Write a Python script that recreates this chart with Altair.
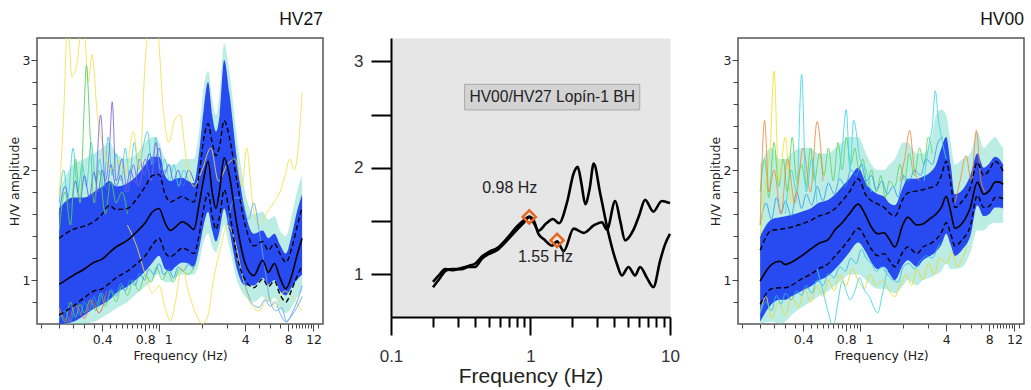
import altair as alt
import pandas as pd

# ---------------- left panel: HV27 (all windows) ----------------
HV27_F = [0.2, 0.25, 0.3, 0.35, 0.4, 0.45, 0.5, 0.6, 0.7, 0.8, 0.9, 1.0, 1.1, 1.2, 1.3, 1.45, 1.6, 1.75, 1.9,
          2.05, 2.2, 2.35, 2.5, 2.65, 2.85, 3.1, 3.5, 4.0, 4.6, 5.3, 5.8, 6.4, 7.0, 7.7, 8.5, 9.2, 10.0]
HV27_MEAN = [0.96, 1.04, 1.10, 1.16, 1.19, 1.25, 1.30, 1.36, 1.44, 1.52, 1.62, 1.65, 1.52, 1.45, 1.48, 1.53, 1.50,
             1.46, 1.68, 1.92, 2.08, 1.80, 1.65, 1.82, 2.11, 1.95, 1.50, 1.15, 1.04, 1.18, 1.07, 1.15, 1.02, 0.92,
             1.05, 1.22, 1.38]
HV27_PLUS = [1.38, 1.46, 1.49, 1.53, 1.60, 1.68, 1.64, 1.65, 1.74, 1.85, 1.95, 1.96, 1.78, 1.71, 1.73, 1.76, 1.73,
             1.71, 1.95, 2.28, 2.42, 2.25, 2.13, 2.22, 2.45, 2.30, 1.90, 1.50, 1.31, 1.35, 1.27, 1.33, 1.24, 1.16,
             1.30, 1.48, 1.66]
HV27_MINUS = [0.68, 0.76, 0.84, 0.90, 0.92, 0.97, 1.02, 1.08, 1.15, 1.22, 1.32, 1.38, 1.25, 1.21, 1.24, 1.29, 1.27,
              1.24, 1.40, 1.65, 1.79, 1.58, 1.46, 1.58, 1.82, 1.62, 1.22, 1.00, 0.93, 1.01, 0.94, 0.99, 0.87, 0.80,
              0.92, 1.03, 1.13]
HV27_CORE_HI = [1.65, 1.75, 1.75, 1.80, 1.85, 1.90, 1.85, 1.88, 1.95, 2.05, 2.12, 2.12, 1.95, 1.90, 1.92, 1.93, 1.90,
                1.88, 2.15, 2.55, 2.80, 2.50, 2.35, 2.50, 3.00, 2.70, 2.10, 1.62, 1.42, 1.45, 1.38, 1.42, 1.32, 1.24,
                1.42, 1.62, 1.78]
HV27_CORE_LO = [0.60, 0.62, 0.68, 0.74, 0.78, 0.82, 0.88, 0.94, 1.01, 1.08, 1.16, 1.22, 1.10, 1.08, 1.12, 1.16, 1.15,
                1.12, 1.28, 1.50, 1.62, 1.45, 1.35, 1.45, 1.65, 1.45, 1.10, 0.95, 0.95, 1.02, 0.96, 1.00, 0.90, 0.86,
                0.94, 1.00, 1.05]
HV27_SPREAD_HI = [1.82, 2.05, 2.10, 2.15, 2.20, 2.25, 2.15, 2.10, 2.15, 2.25, 2.30, 2.25, 2.10, 2.05, 2.05, 2.10, 2.10,
                  2.10, 2.35, 2.75, 2.90, 2.65, 2.50, 2.70, 3.15, 2.90, 2.30, 1.80, 1.60, 1.62, 1.55, 1.58, 1.45, 1.40,
                  1.60, 1.80, 1.95]
HV27_SPREAD_LO = [0.60, 0.60, 0.60, 0.62, 0.66, 0.70, 0.74, 0.80, 0.88, 0.94, 1.00, 1.06, 0.98, 0.98, 1.02, 1.05, 1.05,
                  1.05, 1.15, 1.35, 1.42, 1.30, 1.25, 1.35, 1.50, 1.30, 1.00, 0.85, 0.80, 0.85, 0.80, 0.84, 0.74, 0.70,
                  0.76, 0.84, 0.90]

# individual windows read from the cloud (HV27)
HV27_YEL1_F = [0.2, 0.215, 0.23, 0.245, 0.265, 0.295, 0.32, 0.34, 0.37, 0.41, 0.46, 0.52, 0.58, 0.66, 0.73, 0.8, 0.88,
               0.97, 1.07, 1.17, 1.28, 1.4, 1.55, 1.75, 2.0, 2.3, 2.6, 3.0, 3.4, 3.8, 4.1, 4.5, 5.0, 5.6, 6.3, 7.0,
               7.6, 8.2, 8.8, 9.4, 10.0]
HV27_YEL1_V = [1.75, 2.5, 3.4, 2.85, 2.95, 3.4, 2.8, 3.05, 2.5, 2.2, 2.0, 2.1, 1.95, 2.35, 2.0, 3.0, 3.4, 3.3, 2.55,
               2.25, 2.45, 2.5, 2.1, 1.85, 2.0, 2.2, 1.9, 2.05, 2.1, 1.85, 2.2, 1.7, 1.5, 1.6, 1.7, 1.8, 1.95, 2.1,
               2.0, 2.2, 2.7]
HV27_YEL2_F = [0.6, 0.7, 0.8, 0.9, 1.0, 1.1, 1.2, 1.3, 1.45, 1.6, 1.8, 2.0, 2.2, 2.4, 2.7, 3.0, 3.4, 3.8, 4.3, 5.0,
               5.8, 6.6, 7.5, 8.5, 9.3, 10.0]
HV27_YEL2_V = [1.5, 1.3, 1.05, 0.88, 0.95, 0.75, 0.63, 0.8, 1.12, 0.9, 0.7, 0.6, 0.68, 1.0, 1.3, 1.5, 1.35, 1.05, 0.8,
               0.72, 0.85, 0.75, 0.9, 0.85, 0.78, 0.72]
HV27_LB1_F = [3.0, 3.4, 3.8, 4.2, 4.6, 5.0, 5.5, 6.0, 6.6, 7.2, 7.8, 8.5, 9.2, 10.0]
HV27_LB1_V = [1.5, 1.75, 1.72, 1.55, 1.7, 1.45, 1.1, 0.8, 0.72, 0.75, 0.62, 0.7, 0.8, 0.95]
HV27_LB2_F = [3.5, 4.0, 4.5, 5.0, 5.5, 6.0, 6.5, 7.0, 7.7, 8.5, 9.2, 10.0]
HV27_LB2_V = [1.2, 0.95, 0.78, 0.75, 0.82, 0.76, 0.8, 0.7, 0.62, 0.68, 0.75, 0.85]
HV27_GRN_F = [0.2, 0.22, 0.24, 0.26, 0.28, 0.3, 0.31, 0.33, 0.35, 0.38, 0.42, 0.46, 0.5, 0.55, 0.6]
HV27_GRN_V = [1.45, 1.8, 1.5, 2.1, 1.7, 2.6, 2.95, 2.3, 1.7, 2.0, 1.6, 1.9, 1.7, 1.8, 1.6]
HV27_PUR_F = [0.36, 0.39, 0.42, 0.45, 0.47, 0.5, 0.55, 0.6, 0.66, 0.72, 0.8, 0.88, 0.95, 1.02, 1.1]
HV27_PUR_V = [1.7, 2.5, 1.9, 2.2, 2.62, 1.9, 2.1, 1.8, 2.05, 1.85, 2.1, 1.9, 2.25, 1.95, 2.0]
HV27_RED_F = [0.2, 0.23, 0.26, 0.3, 0.34, 0.38, 0.43]
HV27_RED_V = [0.75, 0.62, 0.78, 0.65, 0.82, 0.7, 0.9]
HV27_CYA_F = [0.2, 0.215, 0.23, 0.25, 0.27, 0.29, 0.31, 0.335, 0.36, 0.385, 0.41, 0.44, 0.47, 0.5, 0.54, 0.58, 0.62,
              0.67, 0.72, 0.77, 0.83, 0.89, 0.95, 1.02, 1.1, 1.18, 1.27, 1.37, 1.48, 1.6]
HV27_CYA_V = [1.7, 2.0, 1.75, 2.2, 1.8, 2.05, 1.85, 2.25, 1.9, 2.1, 1.85, 2.3, 1.95, 2.15, 1.9, 2.2, 1.95, 2.25, 2.0,
              2.2, 2.35, 2.05, 2.3, 2.0, 2.1, 1.9, 2.05, 1.85, 2.0, 1.9]
HV27_GRN2_F = [0.2, 0.22, 0.24, 0.26, 0.28, 0.3, 0.33, 0.36, 0.39, 0.42, 0.46, 0.5, 0.55, 0.6, 0.66, 0.72, 0.8, 0.88,
               0.96, 1.05, 1.15, 1.25, 1.4, 1.6, 1.8]
HV27_GRN2_V = [0.75, 0.62, 0.8, 0.66, 0.78, 0.7, 0.82, 0.72, 0.88, 0.76, 0.9, 0.8, 0.95, 0.86, 1.0, 0.9, 1.05, 0.98,
               1.12, 1.0, 1.08, 0.98, 1.1, 1.05, 1.15]
HV27_EDGE_F = [0.2, 0.22, 0.24, 0.26, 0.28, 0.3, 0.325, 0.35, 0.375, 0.4, 0.43, 0.46, 0.5, 0.54, 0.58, 0.63, 0.68,
               0.73, 0.79, 0.85, 0.92, 1.0, 1.08, 1.17, 1.26, 1.36, 1.47, 1.6, 1.75]
HV27_EDGE1_V = [1.6, 1.85, 1.65, 1.9, 1.7, 1.95, 1.75, 1.98, 1.8, 2.0, 1.82, 2.05, 1.85, 1.95, 1.8, 2.0, 1.88, 2.1,
                1.95, 2.15, 2.05, 2.2, 1.95, 2.05, 1.9, 2.0, 1.85, 2.0, 1.9]
HV27_EDGE2_V = [0.65, 0.72, 0.62, 0.78, 0.68, 0.8, 0.72, 0.85, 0.76, 0.88, 0.8, 0.92, 0.85, 0.97, 0.9, 1.0, 0.95, 1.06,
                1.0, 1.1, 1.05, 1.15, 1.05, 1.1, 1.02, 1.12, 1.08, 1.14, 1.1]

# ---------------- right panel: HV00 (all windows) ----------------
HV00_F = [0.2, 0.24, 0.275, 0.3, 0.33, 0.39, 0.45, 0.51, 0.6, 0.67, 0.75, 0.84, 0.97, 1.1, 1.2, 1.33, 1.47, 1.6,
          1.75, 2.0, 2.15, 2.5, 2.75, 3.1, 3.4, 3.7, 4.0, 4.3, 4.6, 5.2, 5.9, 6.6, 7.3, 8.0, 8.8, 9.4, 10.0]
HV00_MEAN = [0.99, 1.14, 1.17, 1.14, 1.16, 1.22, 1.28, 1.33, 1.37, 1.46, 1.52, 1.60, 1.69, 1.58, 1.48, 1.42, 1.43,
             1.37, 1.30, 1.51, 1.57, 1.50, 1.51, 1.56, 1.60, 1.66, 1.76, 1.62, 1.47, 1.52, 1.66, 1.89, 1.78, 1.81,
             1.89, 1.89, 1.87]
HV00_PLUS = [1.27, 1.45, 1.46, 1.47, 1.48, 1.51, 1.54, 1.58, 1.61, 1.65, 1.72, 1.80, 1.92, 1.77, 1.72, 1.69, 1.66,
             1.61, 1.58, 1.74, 1.79, 1.81, 1.82, 1.84, 1.86, 1.95, 2.08, 1.88, 1.66, 1.72, 1.84, 2.07, 1.95, 2.00,
             2.08, 2.05, 1.99]
HV00_MINUS = [0.78, 0.92, 0.93, 0.93, 0.95, 1.01, 1.05, 1.10, 1.15, 1.22, 1.29, 1.37, 1.47, 1.37, 1.28, 1.22, 1.24,
              1.18, 1.12, 1.26, 1.30, 1.24, 1.30, 1.33, 1.37, 1.43, 1.52, 1.42, 1.31, 1.37, 1.49, 1.77, 1.66, 1.67,
              1.75, 1.75, 1.74]
HV00_CORE_HI = [1.40, 1.55, 1.57, 1.58, 1.59, 1.62, 1.65, 1.70, 1.73, 1.78, 1.85, 1.92, 2.02, 1.88, 1.82, 1.78, 1.76,
                1.70, 1.68, 1.85, 1.92, 1.92, 1.94, 1.98, 2.05, 2.20, 2.30, 2.05, 1.78, 1.82, 1.95, 2.15, 2.02, 2.06,
                2.12, 2.10, 2.05]
HV00_CORE_LO = [0.62, 0.78, 0.82, 0.82, 0.85, 0.90, 0.94, 0.99, 1.04, 1.10, 1.17, 1.25, 1.34, 1.25, 1.16, 1.10, 1.12,
                1.06, 1.00, 1.14, 1.18, 1.12, 1.18, 1.22, 1.26, 1.32, 1.42, 1.32, 1.22, 1.28, 1.40, 1.68, 1.58, 1.60,
                1.66, 1.66, 1.65]
HV00_SPREAD_HI = [2.05, 2.20, 2.10, 2.10, 2.15, 2.20, 2.20, 2.15, 2.15, 2.20, 2.25, 2.30, 2.30, 2.15, 2.05, 2.00, 2.00,
                  2.05, 2.10, 2.25, 2.25, 2.15, 2.15, 2.25, 2.50, 2.55, 2.50, 2.25, 2.05, 2.10, 2.15, 2.35, 2.20, 2.25,
                  2.30, 2.25, 2.20]
HV00_SPREAD_LO = [0.60, 0.62, 0.60, 0.62, 0.68, 0.75, 0.80, 0.85, 0.90, 0.95, 1.00, 1.05, 1.05, 1.00, 0.95, 0.92, 0.92,
                  0.90, 0.88, 0.95, 1.00, 0.95, 1.00, 1.02, 1.05, 1.08, 1.15, 1.10, 1.10, 1.12, 1.25, 1.45, 1.45, 1.50,
                  1.52, 1.52, 1.52]

HV00_YEL_F = [0.2, 0.22, 0.235, 0.25, 0.27, 0.3, 0.33, 0.37]
HV00_YEL_V = [1.4, 1.9, 2.2, 2.9, 1.9, 2.3, 1.7, 2.0]
HV00_ORA1_F = [0.2, 0.215, 0.23, 0.25, 0.28, 0.31, 0.35, 0.4, 0.45, 0.5, 0.55]
HV00_ORA1_V = [1.5, 2.45, 1.8, 2.0, 1.6, 2.1, 1.7, 2.2, 1.8, 2.44, 1.9]
HV00_CYA1_F = [0.3, 0.33, 0.36, 0.39, 0.42, 0.46, 0.5]
HV00_CYA1_V = [1.6, 2.0, 1.8, 2.87, 1.8, 2.1, 1.7]
HV00_CYA2_F = [0.5, 0.55, 0.6, 0.65, 0.7, 0.75, 0.8, 0.85, 0.92, 0.99, 1.08, 1.17, 1.25, 1.33, 1.42, 1.55]
HV00_CYA2_V = [1.1, 0.9, 0.7, 0.58, 0.8, 0.99, 0.9, 0.82, 0.9, 1.02, 0.9, 0.84, 0.75, 0.7, 0.85, 1.1]
HV00_CYA3_F = [0.7, 0.75, 0.8, 0.85, 0.9, 1.0, 1.1, 1.2]
HV00_CYA3_V = [1.9, 2.2, 2.55, 2.0, 2.45, 2.1, 2.0, 1.8]
HV00_CYA4_F = [2.8, 3.0, 3.2, 3.36, 3.5, 3.7, 4.0]
HV00_CYA4_V = [1.9, 2.2, 2.4, 2.72, 2.5, 2.3, 2.1]
HV00_ORA2_F = [4.6, 5.0, 5.5, 6.0, 6.5, 7.0, 7.5]
HV00_ORA2_V = [1.7, 1.9, 2.13, 1.9, 2.36, 1.9, 1.8]
HV00_ORA3_F = [1.9, 2.05, 2.22, 2.4, 2.6]
HV00_ORA3_V = [1.9, 2.1, 2.36, 2.0, 1.9]
HV00_GRN_F = [0.2, 0.215, 0.23, 0.25, 0.27, 0.29, 0.31, 0.335, 0.36, 0.39, 0.42, 0.45, 0.48, 0.52, 0.56, 0.6, 0.65,
              0.7, 0.75, 0.8, 0.86, 0.92, 0.98, 1.05, 1.12, 1.2, 1.3, 1.4, 1.5, 1.6, 1.75, 1.9, 2.05, 2.2, 2.4, 2.6,
              2.8, 3.0, 3.2]
HV00_GRN_V = [1.8, 2.1, 1.75, 2.25, 1.85, 2.1, 1.8, 2.3, 1.9, 2.05, 1.85, 2.2, 1.9, 2.15, 1.95, 2.2, 1.9, 2.25, 2.0,
              2.3, 2.05, 2.2, 2.0, 2.1, 1.85, 2.0, 1.8, 1.95, 1.75, 1.9, 1.85, 2.05, 1.9, 2.15, 1.95, 2.2, 2.05, 2.3,
              2.15]
HV00_YEL2_F = [0.2, 0.22, 0.24, 0.27, 0.3, 0.33, 0.37, 0.41, 0.45, 0.5, 0.55, 0.6, 0.66, 0.72, 0.8, 0.88, 0.97, 1.07,
               1.17, 1.3, 1.45, 1.6, 1.75, 1.9, 2.1, 2.3, 2.5, 2.75, 3.0, 3.3, 3.6, 4.0, 4.4, 4.8, 5.2, 5.6]
HV00_YEL2_V = [0.7, 0.85, 0.65, 0.8, 0.68, 0.85, 0.75, 0.92, 0.8, 0.95, 0.85, 1.0, 0.9, 1.05, 0.95, 1.1, 1.0, 0.92,
               1.05, 0.95, 1.0, 0.9, 0.85, 0.95, 1.05, 0.95, 1.1, 1.0, 1.15, 1.05, 1.2, 1.15, 1.25, 1.12, 1.2, 1.3]
HV00_EDGE_F = [0.2, 0.22, 0.24, 0.26, 0.28, 0.3, 0.33, 0.36, 0.39, 0.42, 0.46, 0.5, 0.55, 0.6, 0.66, 0.72, 0.79, 0.86,
               0.94, 1.02, 1.1, 1.2, 1.3, 1.42, 1.55, 1.7, 1.85, 2.0, 2.2, 2.4, 2.65, 2.9, 3.2, 3.5, 3.8]
HV00_EDGE1_V = [1.5, 1.7, 1.55, 1.75, 1.6, 1.72, 1.58, 1.8, 1.65, 1.78, 1.68, 1.85, 1.72, 1.88, 1.78, 1.92, 1.85, 2.0,
                1.95, 2.05, 1.9, 1.95, 1.82, 1.9, 1.78, 1.85, 1.75, 1.95, 1.9, 2.0, 1.95, 2.1, 2.05, 2.25, 2.3]
HV00_EDGE2_V = [0.7, 0.8, 0.72, 0.86, 0.78, 0.88, 0.82, 0.9, 0.86, 0.95, 0.88, 1.0, 0.95, 1.06, 1.02, 1.12, 1.08, 1.2,
                1.15, 1.28, 1.2, 1.15, 1.08, 1.12, 1.05, 1.0, 0.98, 1.12, 1.15, 1.1, 1.18, 1.22, 1.2, 1.3, 1.35]

# ---------------- centre panel: mean curves ----------------
C_HV27_F = [0.2, 0.22, 0.25, 0.28, 0.32, 0.36, 0.4, 0.45, 0.5, 0.58, 0.68, 0.8, 0.9, 0.98, 1.06, 1.14, 1.3, 1.45,
            1.6, 1.83, 2.04, 2.18, 2.32, 2.47, 2.65, 2.84, 3.16, 3.63, 4.16, 4.52, 5.04, 5.62, 6.1, 6.82, 7.6, 8.5,
            9.2, 10.0]
C_HV27_V = [0.88, 0.95, 1.04, 1.05, 1.05, 1.07, 1.07, 1.15, 1.19, 1.23, 1.32, 1.42, 1.49, 1.54, 1.48, 1.41, 1.48,
            1.52, 1.48, 1.68, 1.95, 2.01, 1.85, 1.66, 1.80, 2.04, 1.76, 1.38, 1.10, 0.99, 1.07, 0.99, 1.07, 0.97,
            0.88, 1.13, 1.28, 1.38]
C_HV00_F = [0.2, 0.22, 0.245, 0.28, 0.32, 0.36, 0.4, 0.45, 0.5, 0.58, 0.68, 0.8, 0.9, 0.98, 1.06, 1.14, 1.25, 1.43,
            1.55, 1.73, 2.04, 2.41, 2.84, 3.25, 3.53, 4.05, 4.4, 4.77, 5.48, 6.0, 6.63, 7.6, 8.73, 9.4, 10.0]
C_HV00_V = [0.93, 0.99, 1.05, 1.04, 1.06, 1.08, 1.10, 1.17, 1.21, 1.25, 1.34, 1.45, 1.51, 1.54, 1.50, 1.38, 1.33,
            1.27, 1.31, 1.22, 1.43, 1.39, 1.46, 1.49, 1.42, 1.69, 1.50, 1.32, 1.42, 1.55, 1.70, 1.59, 1.69, 1.68,
            1.67]
PEAK_F = [0.98, 1.55]
PEAK_V = [1.54, 1.32]
PEAK_LABELS = ["0.98 Hz", "1.55 Hz"]
PEAK_LABEL_F = [0.71, 1.28]
PEAK_LABEL_V = [1.81, 1.16]
LEGEND_TEXT = "HV00/HV27 Lopín-1 BH"

# axis tick lists
SIDE_X_MAJOR = [0.4, 0.8, 1, 4, 8, 12]
SIDE_X_MINOR = [0.15, 0.2, 0.25, 0.3, 0.35, 0.45, 0.5, 0.55, 0.6, 0.65, 0.7, 0.75, 0.85, 0.9, 0.95,
                2, 3, 5, 6, 7, 8.5, 9, 9.5, 10, 10.5, 11, 11.5, 13]
SIDE_Y_MAJOR = [1, 2, 3]
SIDE_Y_MINOR = [0.8, 1.2, 1.4, 1.6, 1.8, 2.2, 2.4, 2.6, 2.8]
C_X_MAJOR = [0.1, 1, 10]
C_X_MINOR = [0.2, 0.3, 0.4, 0.5, 0.6, 0.7, 0.8, 0.9, 2, 3, 4, 5, 6, 7, 8, 9]
C_Y_TICKS = [1, 1.5, 2, 2.5, 3]

SIDE_FONT = "DejaVu Sans"
C_FONT = "Liberation Sans"
AX = "#444444"
TXT = "#222222"


def side_panel(F, mean, plus, minus, chi, clo, shi, slo, outliers, name):
    xs = alt.Scale(type="log", domain=[0.14, 14.0], nice=False)
    ys = alt.Scale(domain=[0.6, 3.2], nice=False, zero=False)
    df = pd.DataFrame({"f": F, "mean": mean, "chi": chi, "clo": clo, "shi": shi, "slo": slo})
    ddf = pd.concat([pd.DataFrame({"f": F, "v": plus, "s": "plus"}),
                     pd.DataFrame({"f": F, "v": minus, "s": "minus"})])
    rows = []
    for k, (fs, vs, col) in enumerate(outliers):
        for f, v in zip(fs, vs):
            rows.append({"id": k, "f": f, "v": v, "c": col})
    odf = pd.DataFrame(rows)

    x_minor = alt.Axis(orient="bottom", values=SIDE_X_MINOR, labels=False, tickSize=4, domain=False,
                       grid=False, title=None, tickColor=AX)
    x_major = alt.Axis(orient="bottom", values=SIDE_X_MAJOR, format="~g", labelFlush=False, labelOverlap=False,
                       labelOffset={"condition": {"test": "datum.value == 1", "value": 9}, "value": 0},
                       tickSize=7, domain=False, grid=False, tickColor=AX, labelFont=SIDE_FONT, labelFontSize=12.5,
                       labelColor=TXT, labelPadding=2, title="Frequency (Hz)", titleFont=SIDE_FONT,
                       titleFontSize=12.5, titleFontWeight="normal", titleColor=TXT, titlePadding=4)
    y_minor = alt.Axis(orient="left", values=SIDE_Y_MINOR, labels=False, tickSize=5, domain=False, grid=False,
                       title=None, tickColor=AX)
    y_major = alt.Axis(orient="left", values=SIDE_Y_MAJOR, format="~g", tickSize=6, domain=False, grid=False,
                       tickColor=AX, labelFont=SIDE_FONT, labelFontSize=12.5, labelColor=TXT, labelPadding=1,
                       title="H/V amplitude", titleFont=SIDE_FONT, titleFontSize=12.5, titleFontWeight="normal",
                       titleColor=TXT, titlePadding=1)

    spread = alt.Chart(df).mark_area(color="#5fd4c0", opacity=0.42, interpolate="monotone", clip=True).encode(
        x=alt.X("f:Q", scale=xs, axis=x_minor),
        y=alt.Y("slo:Q", scale=ys, axis=y_minor),
        y2="shi:Q")
    core = alt.Chart(df).mark_area(color="#1a3cf2", opacity=0.92, interpolate="monotone", clip=True).encode(
        x=alt.X("f:Q", scale=xs, axis=None),
        y=alt.Y("clo:Q", scale=ys, axis=None),
        y2="chi:Q")
    outl = alt.Chart(odf).mark_line(strokeWidth=1, opacity=0.85, interpolate="monotone", clip=True).encode(
        x=alt.X("f:Q", scale=xs, axis=None),
        y=alt.Y("v:Q", scale=ys, axis=None),
        detail="id:N",
        color=alt.Color("c:N", scale=None))
    dash = alt.Chart(ddf).mark_line(color="black", strokeWidth=1.4, strokeDash=[5, 3], interpolate="monotone",
                                    clip=True).encode(
        x=alt.X("f:Q", scale=xs, axis=None),
        y=alt.Y("v:Q", scale=ys, axis=None),
        detail="s:N")
    meanl = alt.Chart(df).mark_line(color="black", strokeWidth=1.6, interpolate="monotone", clip=True).encode(
        x=alt.X("f:Q", scale=xs, axis=x_major),
        y=alt.Y("mean:Q", scale=ys, axis=y_major))
    return alt.layer(spread, core, outl, dash, meanl).resolve_axis(x="independent", y="independent").properties(
        width=286, height=286,
        title=alt.TitleParams(name, anchor="end", font=C_FONT, fontSize=17.5, fontWeight="normal",
                              color="#111111", offset=10),
        view=alt.ViewBackground(fill="white", stroke="#555555", strokeWidth=1.5))


left = side_panel(HV27_F, HV27_MEAN, HV27_PLUS, HV27_MINUS, HV27_CORE_HI, HV27_CORE_LO, HV27_SPREAD_HI,
                  HV27_SPREAD_LO,
                  [(HV27_CYA_F, HV27_CYA_V, "#3fcfe0"), (HV27_GRN2_F, HV27_GRN2_V, "#57d65a"),
                   (HV27_EDGE_F, HV27_EDGE1_V, "#4a62f4"), (HV27_EDGE_F, HV27_EDGE2_V, "#2f9cf0"),
                   (HV27_YEL1_F, HV27_YEL1_V, "#f2df4e"), (HV27_YEL2_F, HV27_YEL2_V, "#f2df4e"),
                   (HV27_LB1_F, HV27_LB1_V, "#5aa6ec"), (HV27_LB2_F, HV27_LB2_V, "#5aa6ec"),
                   (HV27_GRN_F, HV27_GRN_V, "#4fd05a"), (HV27_PUR_F, HV27_PUR_V, "#7b62e0"),
                   (HV27_RED_F, HV27_RED_V, "#e8604a")], "HV27")

right = side_panel(HV00_F, HV00_MEAN, HV00_PLUS, HV00_MINUS, HV00_CORE_HI, HV00_CORE_LO, HV00_SPREAD_HI,
                   HV00_SPREAD_LO,
                   [(HV00_GRN_F, HV00_GRN_V, "#57d65a"), (HV00_YEL2_F, HV00_YEL2_V, "#e8d630"),
                    (HV00_EDGE_F, HV00_EDGE1_V, "#2f9cf0"), (HV00_EDGE_F, HV00_EDGE2_V, "#2fb8e8"),
                    (HV00_YEL_F, HV00_YEL_V, "#f2df2e"), (HV00_ORA1_F, HV00_ORA1_V, "#f08a3c"),
                    (HV00_CYA1_F, HV00_CYA1_V, "#3ad6e8"), (HV00_CYA2_F, HV00_CYA2_V, "#3ad6e8"),
                    (HV00_CYA3_F, HV00_CYA3_V, "#3ad6e8"), (HV00_CYA4_F, HV00_CYA4_V, "#3ad6e8"),
                    (HV00_ORA2_F, HV00_ORA2_V, "#f08a3c"), (HV00_ORA3_F, HV00_ORA3_V, "#f08a3c")], "HV00")

# ---------------- centre panel ----------------
cxs = alt.Scale(type="log", domain=[0.1, 10], nice=False)
cys = alt.Scale(domain=[0.6, 3.22], nice=False, zero=False)

cx_minor = alt.Axis(orient="bottom", values=C_X_MINOR, labels=False, tickSize=10, tickWidth=2, tickColor="black",
                    domain=True, domainWidth=2, domainColor="black", grid=False, title=None)
cx_major = alt.Axis(orient="bottom", values=C_X_MAJOR, format="~g", labelFlush=False, labelOverlap=False,
                    tickSize=18, tickWidth=2, tickColor="black", domain=False, grid=False, labelFont=C_FONT,
                    labelFontSize=17, labelColor="#333333", labelPadding=13, title="Frequency (Hz)",
                    titleFont=C_FONT, titleFontSize=21, titleFontWeight="normal", titleColor="#222222",
                    titlePadding=1)
cy_axis = alt.Axis(orient="left", values=C_Y_TICKS, format="~g",
                   labelExpr="(datum.value == 1 || datum.value == 2 || datum.value == 3) ? datum.label : ''",
                   tickSize=20, tickWidth=2, tickColor="black", domain=True, domainWidth=2, domainColor="black",
                   grid=False, labelFont=C_FONT, labelFontSize=17, labelColor="#333333", labelPadding=8,
                   title=None)

cdf_a = pd.DataFrame({"f": C_HV27_F, "v": C_HV27_V})
cdf_b = pd.DataFrame({"f": C_HV00_F, "v": C_HV00_V})
peak_df = pd.DataFrame({"f": PEAK_F, "v": PEAK_V})
plab_df = pd.DataFrame({"f": PEAK_LABEL_F, "v": PEAK_LABEL_V, "t": PEAK_LABELS})
leg_df = pd.DataFrame({"f1": [0.337], "f2": [6.07], "v1": [2.545], "v2": [2.785], "fc": [1.43], "vc": [2.662],
                       "t": [LEGEND_TEXT]})

leg_box = alt.Chart(leg_df).mark_rect(fill="#d3d3d3", stroke="#a8a8a8", strokeWidth=1).encode(
    x=alt.X("f1:Q", scale=cxs, axis=None), x2="f2:Q",
    y=alt.Y("v1:Q", scale=cys, axis=None), y2="v2:Q")
leg_txt = alt.Chart(leg_df).mark_text(font=C_FONT, fontSize=15.6, color="#222222").encode(
    x=alt.X("fc:Q", scale=cxs, axis=None), y=alt.Y("vc:Q", scale=cys, axis=None), text="t:N")
line_a = alt.Chart(cdf_a).mark_line(color="black", strokeWidth=2.6, interpolate="monotone").encode(
    x=alt.X("f:Q", scale=cxs, axis=cx_minor), y=alt.Y("v:Q", scale=cys, axis=cy_axis))
line_b = alt.Chart(cdf_b).mark_line(color="black", strokeWidth=2.6, interpolate="monotone").encode(
    x=alt.X("f:Q", scale=cxs, axis=cx_major), y=alt.Y("v:Q", scale=cys, axis=None))
peaks = alt.Chart(peak_df).mark_point(shape="diamond", filled=False, size=170, strokeWidth=2.6,
                                      color="#e8661e", opacity=1).encode(
    x=alt.X("f:Q", scale=cxs, axis=None), y=alt.Y("v:Q", scale=cys, axis=None))
plabs = alt.Chart(plab_df).mark_text(font=C_FONT, fontSize=16, color="#222222").encode(
    x=alt.X("f:Q", scale=cxs, axis=None), y=alt.Y("v:Q", scale=cys, axis=None), text="t:N")

center = alt.layer(leg_box, leg_txt, line_a, line_b, peaks, plabs).resolve_axis(
    x="independent", y="independent").properties(
    width=279, height=279,
    view=alt.ViewBackground(fill="#e6e6e6", stroke="transparent"))

chart = alt.hconcat(left, center, right, spacing=68, bounds="flush").properties(
    padding={"left": 7, "top": 9, "right": 2, "bottom": 2}
).configure(background="white")

chart.save("out.html", embed_options={"renderer": "svg", "actions": False})
